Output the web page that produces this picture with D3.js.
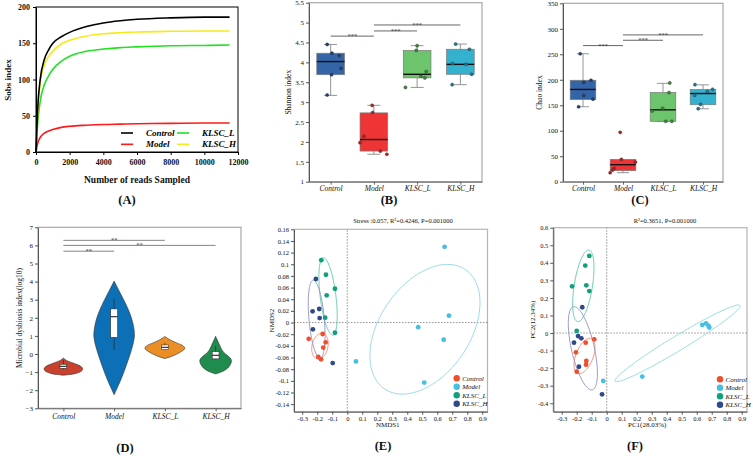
<!DOCTYPE html>
<html>
<head>
<meta charset="utf-8">
<script src="https://cdn.jsdelivr.net/npm/d3@7"></script>
<style>
body { margin: 0; background: #fff; }
svg, svg text { font-family: "Liberation Serif", "Times New Roman", "DejaVu Serif", serif !important; }
</style>
</head>
<body>
<script>
var groups = ["Control", "Model", "KLSC_L", "KLSC_H"];

// (A) rarefaction curves
var readsSampled = [0, 100, 250, 500, 750, 1000, 1500, 2000, 3000, 4000, 5000, 6000, 8000, 10000, 11500];
var sobsControl = [0, 60, 100, 128, 141, 150, 159, 165, 173, 178, 181, 183, 185, 186, 186];
var sobsModel = [0, 12, 20, 26, 29, 31, 34, 35.5, 37, 38, 38.5, 39, 39.5, 40, 40];
var sobsKlscL = [0, 40, 70, 93, 105, 114, 125, 132, 139, 142, 144, 145, 146.5, 147, 147.5];
var sobsKlscH = [0, 55, 95, 120, 132, 139, 149, 154, 160, 163, 164.5, 165.5, 166.5, 167, 167];
var readsTicks = [0, 2000, 4000, 6000, 8000, 10000, 12000];
var sobsTicks = [0, 50, 100, 150, 200];

// (B) Shannon: [min, q1, median, q3, max]
var shannonBox = [[3.17, 3.69, 4.02, 4.23, 4.45], [1.69, 1.77, 2.06, 2.73, 2.92], [3.37, 3.61, 3.70, 4.30, 4.42], [3.44, 3.70, 3.95, 4.33, 4.46]];
var shannonPoints = [[4.45, 4.23, 4.17, 3.85, 3.69, 3.18], [2.92, 2.74, 2.14, 1.98, 1.77, 1.69], [4.42, 4.30, 3.77, 3.65, 3.61, 3.37], [4.46, 4.33, 3.97, 3.95, 3.70, 3.44]];
var shannonJitter = [[-0.08, 0.03, 0.2, 0.24, 0.02, -0.08], [-0.04, -0.03, -0.23, -0.32, 0.15, 0.3], [0, -0.02, 0.21, 0.09, 0.18, -0.27], [-0.11, 0.21, -0.18, 0.13, 0.26, -0.19]];
var shannonSig = [[0, 1, 4.66, "***"], [1, 2, 4.79, "***"], [1, 3, 4.94, "***"]];
var shannonTicks = [1, 1.5, 2, 2.5, 3, 3.5, 4, 4.5, 5, 5.5];

// (C) Chao
var chaoBox = [[147, 161, 181, 199, 251], [17.7, 21.6, 33.4, 43.8, 43.8], [118, 118.5, 141, 175, 193], [143, 151, 173, 181, 190]];
var chaoPoints = [[251, 195, 199, 169, 162, 147], [96.9, 43.8, 38.6, 26.2, 22.9, 17.7], [193.7, 174.8, 144, 138.7, 118.5, 118.5], [190.4, 181.3, 176.7, 169.5, 151.8, 143.3]];
var chaoJitter = [[-0.07, 0.02, 0.2, 0.02, 0.25, -0.11], [-0.07, -0.04, 0.31, -0.22, -0.26, -0.32], [0.17, 0.15, -0.01, -0.27, 0.07, 0.22], [-0.2, 0.24, 0.11, -0.21, -0.06, -0.12]];
var chaoSig = [[0, 1, 267, "***"], [1, 2, 277.5, "***"], [1, 3, 288, "***"]];
var chaoTicks = [0, 50, 100, 150, 200, 250, 300, 350];

// (D) microbial dysbiosis index, violin profiles
var mdiLevels = [
  [-1.17, -1.1, -1.0, -0.9, -0.8, -0.7, -0.6, -0.5, -0.4, -0.3, -0.22],
  [-2.25, -1.5, -1, -0.5, 0, 0.5, 1, 1.5, 2, 2.5, 3, 3.5, 4.03],
  [-0.25, -0.15, 0, 0.15, 0.3, 0.45, 0.6, 0.75, 0.88, 0.97],
  [-1.1, -1.0, -0.85, -0.7, -0.5, -0.35, -0.2, -0.05, 0.1, 0.25, 0.4, 0.55, 0.7, 0.85, 0.98]
];
var mdiDensity = [
  [0, 0.52, 0.81, 0.93, 0.95, 0.88, 0.71, 0.48, 0.24, 0.08, 0],
  [0, 0.3, 0.48, 0.64, 0.79, 0.92, 1.0, 0.96, 0.85, 0.68, 0.47, 0.24, 0],
  [0, 0.29, 0.59, 0.83, 0.98, 0.9, 0.61, 0.31, 0.12, 0],
  [0, 0.27, 0.51, 0.66, 0.76, 0.78, 0.7, 0.55, 0.39, 0.3, 0.23, 0.17, 0.11, 0.05, 0]
];
var mdiBox = [[-0.85, -0.79, -0.68, -0.57, -0.33], [0.22, 0.92, 2.06, 2.49, 3.04], [0.2, 0.24, 0.37, 0.5, 0.62], [-0.3, -0.27, -0.07, 0.13, 0.44]];
var mdiSig = [[0, 1, 5.68, "**"], [0, 3, 6.0, "**"], [0, 2, 6.28, "**"]];
var mdiTicks = [-3, -2, -1, 0, 1, 2, 3, 4, 5, 6, 7];

// (E) NMDS
var nmds1 = [
  [-0.257, -0.164, -0.144, -0.160, -0.193, -0.175],
  [0.649, 0.678, 0.473, 0.643, 0.513, 0.058],
  [-0.173, -0.142, -0.082, -0.137, -0.147, -0.082],
  [-0.209, -0.187, -0.231, -0.184, -0.229, -0.097]
];
var nmds2 = [
  [-0.028, -0.0197, -0.034, -0.043, -0.059, -0.063],
  [0.130, 0.0117, -0.008, -0.0295, -0.103, -0.0667],
  [0.107, 0.082, 0.058, 0.0467, 0.0083, -0.0175],
  [0.0747, 0.0232, 0.0192, 0.0077, -0.0117, -0.0696]
];
// [cx, cy, half width, half height, correlation]
var nmdsEllipses = [[-0.182, -0.0406, 0.055, 0.022, 0.2], [0.518, -0.0115, 0.367, 0.1113, 0.41], [-0.128, 0.0448, 0.061, 0.0663, -0.5], [-0.204, 0.0058, 0.056, 0.067, -0.4]];
var nmdsXTicks = [-0.3, -0.2, -0.1, 0, 0.1, 0.2, 0.3, 0.4, 0.5, 0.6, 0.7, 0.8, 0.9];
var nmdsYTicks = [-0.14, -0.12, -0.1, -0.08, -0.06, -0.04, -0.02, 0, 0.02, 0.04, 0.06, 0.08, 0.1, 0.12, 0.14, 0.16];

// (F) PCoA
var pc1 = [
  [-0.083, -0.14, -0.205, -0.136, -0.138, -0.2],
  [0.637, 0.662, 0.678, 0.684, 0.237, -0.023],
  [-0.116, -0.143, -0.231, -0.136, -0.116, -0.2],
  [-0.163, -0.191, -0.169, -0.218, -0.185, -0.031]
];
var pc2 = [
  [-0.036, -0.055, -0.11, -0.159, -0.18, -0.22],
  [0.046, 0.055, 0.042, 0.031, -0.248, -0.273],
  [0.439, 0.384, 0.266, 0.272, 0.239, 0.012],
  [0.147, -0.017, -0.03, -0.055, -0.192, -0.349]
];
var pcoaEllipses = [[-0.148, -0.131, 0.07, 0.101, 0.5], [0.472, -0.0585, 0.417, 0.2185, 0.975], [-0.156, 0.269, 0.071, 0.204, 0.5], [-0.159, -0.087, 0.097, 0.237, -0.6]];
var pcoaXTicks = [-0.3, -0.2, -0.1, 0, 0.1, 0.2, 0.3, 0.4, 0.5, 0.6, 0.7, 0.8, 0.9];
var pcoaYTicks = [-0.4, -0.3, -0.2, -0.1, 0, 0.1, 0.2, 0.3, 0.4, 0.5, 0.6];

var serif = "Liberation Serif, Times New Roman, DejaVu Serif, serif";
var fmt = function(d) { return String(+d.toFixed(2)); };

var svg = d3.select("body").append("svg")
  .attr("width", 753).attr("height", 456);
svg.append("rect").attr("width", 753).attr("height", 456).attr("fill", "#fff");

function styleAxis(g, size, weight, color, style) {
  g.attr("font-family", serif).attr("font-size", size);
  g.select(".domain").attr("stroke", color);
  g.selectAll(".tick line").attr("stroke", color);
  g.selectAll(".tick text").attr("fill", "#111")
    .attr("font-weight", weight || null)
    .attr("font-style", style || null);
}

function label(txt, x, y, size, opts) {
  opts = opts || {};
  var t = svg.append("text").text(txt)
    .attr("x", x).attr("y", y)
    .attr("font-size", size)
    .attr("text-anchor", opts.anchor || "middle")
    .attr("fill", "#111");
  if (opts.bold) t.attr("font-weight", "bold");
  if (opts.italic) t.attr("font-style", "italic");
  if (opts.rotate) t.attr("transform", "rotate(-90," + x + "," + y + ")");
  return t;
}

/* ---------- (A) ---------- */
(function() {
  var x = d3.scaleLinear().domain([0, 12000]).range([36, 238]);
  var y = d3.scaleLinear().domain([0, 200]).range([152, 7]);
  var g = svg.append("g");

  var series = [
    { name: "Control", values: sobsControl, color: "#000" },
    { name: "Model", values: sobsModel, color: "#ff1a1a" },
    { name: "KLSC_L", values: sobsKlscL, color: "#22e022" },
    { name: "KLSC_H", values: sobsKlscH, color: "#f7ea1c" }
  ];
  var line = d3.line()
    .x(function(d, i) { return x(readsSampled[i]); })
    .y(function(d) { return y(d); })
    .curve(d3.curveMonotoneX);

  [series[2], series[3], series[1], series[0]].forEach(function(s) {
    g.append("path").attr("d", line(s.values))
      .attr("fill", "none").attr("stroke", s.color).attr("stroke-width", 1.6);
  });

  g.append("rect").attr("x", x(0)).attr("y", y(200))
    .attr("width", x(12000) - x(0)).attr("height", y(0) - y(200))
    .attr("fill", "none").attr("stroke", "#000").attr("stroke-width", 1);

  g.append("g").attr("transform", "translate(0," + y(0) + ")")
    .call(d3.axisBottom(x).tickValues(readsTicks).tickFormat(d3.format("d")).tickSize(3).tickPadding(4).tickSizeOuter(0))
    .call(styleAxis, 8, "bold", "#000");
  g.append("g").attr("transform", "translate(" + x(0) + ",0)")
    .call(d3.axisLeft(y).tickValues(sobsTicks).tickSize(3).tickPadding(3).tickSizeOuter(0))
    .call(styleAxis, 8, "bold", "#000");

  // legend
  var leg = [[0, 121, 133], [1, 121, 144.3], [2, 177, 133], [3, 177, 144.3]];
  leg.forEach(function(l) {
    var s = series[l[0]];
    g.append("line").attr("x1", l[1]).attr("x2", l[1] + 12).attr("y1", l[2]).attr("y2", l[2])
      .attr("stroke", s.color).attr("stroke-width", 1.6);
    g.append("text").text(s.name).attr("x", l[1] + 25).attr("y", l[2] + 3)
      .attr("font-size", 9).attr("font-weight", "bold").attr("font-style", "italic");
  });

  label("Sobs index", 11, 80, 9, { bold: true, rotate: true });
  label("Number of reads Sampled", 137, 183, 9.5, { bold: true });
  label("(A)", 127, 204, 12.5, { bold: true });
})();

/* ---------- (B), (C) box plots ---------- */
var boxFill = ["#3465a8", "#ee3434", "#6cc56c", "#33b1cf"];
var pointFill = ["#1f3e76", "#b51f1f", "#3a8c3a", "#197a94"];

function boxPanel(cfg) {
  var x = d3.scalePoint().domain(groups).range(cfg.xr).padding(0.5);
  var y = d3.scaleLinear().domain(cfg.yd).range(cfg.yr);
  var step = x.step();
  var bw = step * 0.64, cw = step * 0.3;
  var g = svg.append("g");

  g.append("rect").attr("x", cfg.xr[0]).attr("y", cfg.yr[1])
    .attr("width", cfg.xr[1] - cfg.xr[0]).attr("height", cfg.yr[0] - cfg.yr[1])
    .attr("fill", "none").attr("stroke", "#a8a8a8").attr("stroke-width", 1.2);

  groups.forEach(function(grp, i) {
    var b = cfg.box[i], cx = x(grp);
    var wg = g.append("g").attr("stroke", "#8a8a8a").attr("stroke-width", 0.9);
    wg.append("line").attr("x1", cx).attr("x2", cx).attr("y1", y(b[0])).attr("y2", y(b[1]));
    wg.append("line").attr("x1", cx).attr("x2", cx).attr("y1", y(b[3])).attr("y2", y(b[4]));
    wg.append("line").attr("x1", cx - cw / 2).attr("x2", cx + cw / 2).attr("y1", y(b[0])).attr("y2", y(b[0]));
    if (b[4] > b[3]) wg.append("line").attr("x1", cx - cw / 2).attr("x2", cx + cw / 2).attr("y1", y(b[4])).attr("y2", y(b[4]));
    g.append("rect").attr("x", cx - bw / 2).attr("y", y(b[3]))
      .attr("width", bw).attr("height", y(b[1]) - y(b[3]))
      .attr("fill", boxFill[i]).attr("stroke", "#7a7a7a").attr("stroke-width", 0.7);
    g.append("line").attr("x1", cx - bw / 2).attr("x2", cx + bw / 2)
      .attr("y1", y(b[2])).attr("y2", y(b[2]))
      .attr("stroke", "#111").attr("stroke-width", 1.4);
    g.selectAll(null).data(cfg.points[i]).enter().append("circle")
      .attr("cx", function(d, j) { return cx + cfg.jitter[i][j] * step; })
      .attr("cy", function(d) { return y(d); })
      .attr("r", 1.6)
      .attr("fill", pointFill[i]).attr("stroke", "#333").attr("stroke-width", 0.4);
  });

  cfg.sig.forEach(function(s) {
    var x1 = x(groups[s[0]]), x2 = x(groups[s[1]]), yy = y(s[2]);
    g.append("line").attr("x1", x1).attr("x2", x2).attr("y1", yy).attr("y2", yy)
      .attr("stroke", "#666").attr("stroke-width", 1);
    g.append("text").text(s[3]).attr("x", (x1 + x2) / 2).attr("y", yy + 2)
      .attr("text-anchor", "middle").attr("font-size", 6.5).attr("fill", "#333");
  });

  g.append("g").attr("transform", "translate(0," + cfg.yr[0] + ")")
    .call(d3.axisBottom(x).tickSize(3).tickPadding(1).tickSizeOuter(0))
    .call(styleAxis, 7.5, null, "#666", "italic");
  g.append("g").attr("transform", "translate(" + cfg.xr[0] + ",0)")
    .call(d3.axisLeft(y).tickValues(cfg.ticks).tickSize(3).tickPadding(2).tickSizeOuter(0).tickFormat(fmt))
    .call(styleAxis, 7, null, "#555");

  label(cfg.ylab, cfg.ylabX, (cfg.yr[0] + cfg.yr[1]) / 2, 7.5, { rotate: true });
  label(cfg.tag, cfg.tagX, 204, 12.5, { bold: true });
}

boxPanel({ xr: [309, 482], yd: [1, 5.5], yr: [181.7, 2.7], box: shannonBox, points: shannonPoints,
  jitter: shannonJitter, sig: shannonSig, ticks: shannonTicks, ylab: "Shannon index", ylabX: 291, tag: "(B)", tagX: 389 });
boxPanel({ xr: [563, 723], yd: [0, 350], yr: [181.7, 3.3], box: chaoBox, points: chaoPoints,
  jitter: chaoJitter, sig: chaoSig, ticks: chaoTicks, ylab: "Chao index", ylabX: 542, tag: "(C)", tagX: 640 });

/* ---------- (D) violins ---------- */
(function() {
  var violinFill = ["#c9402c", "#0d6fb5", "#ea8e25", "#1f8b4c"];
  var x = d3.scalePoint().domain(groups).range([38, 241]).padding(0.5);
  var y = d3.scaleLinear().domain([-3, 7]).range([408.3, 227.3]);
  var w = d3.scaleLinear().domain([0, 1]).range([0, 20.3]);
  var g = svg.append("g");

  g.append("rect").attr("x", 38).attr("y", 227.3).attr("width", 203).attr("height", 181)
    .attr("fill", "none").attr("stroke", "#a8a8a8").attr("stroke-width", 1.2);

  groups.forEach(function(grp, i) {
    var cx = x(grp);
    var area = d3.area()
      .y(function(d, j) { return y(mdiLevels[i][j]); })
      .x0(function(d) { return cx - w(d); })
      .x1(function(d) { return cx + w(d); })
      .curve(d3.curveCatmullRom);
    g.append("path").attr("d", area(mdiDensity[i]))
      .attr("fill", violinFill[i]).attr("stroke", "#333").attr("stroke-width", 0.6);

    var b = mdiBox[i], hw = 3.4;
    g.append("line").attr("x1", cx).attr("x2", cx).attr("y1", y(b[0])).attr("y2", y(b[4]))
      .attr("stroke", "#222").attr("stroke-width", 0.6);
    g.append("rect").attr("x", cx - hw).attr("y", y(b[3])).attr("width", hw * 2).attr("height", y(b[1]) - y(b[3]))
      .attr("fill", "#fff").attr("stroke", "#222").attr("stroke-width", 0.5);
    g.append("line").attr("x1", cx - hw).attr("x2", cx + hw).attr("y1", y(b[2])).attr("y2", y(b[2]))
      .attr("stroke", "#111").attr("stroke-width", 1);
  });

  mdiSig.forEach(function(s) {
    var x1 = x(groups[s[0]]), x2 = x(groups[s[1]]), yy = y(s[2]);
    g.append("line").attr("x1", x1).attr("x2", x2).attr("y1", yy).attr("y2", yy)
      .attr("stroke", "#777").attr("stroke-width", 0.9);
    g.append("text").text(s[3]).attr("x", (x1 + x2) / 2).attr("y", yy + 2)
      .attr("text-anchor", "middle").attr("font-size", 6.5).attr("fill", "#333");
  });

  g.append("g").attr("transform", "translate(0,408.3)")
    .call(d3.axisBottom(x).tickSize(3).tickPadding(2).tickSizeOuter(0))
    .call(styleAxis, 7.5, null, "#666", "italic");
  g.append("g").attr("transform", "translate(38,0)")
    .call(d3.axisLeft(y).tickValues(mdiTicks).tickSize(3).tickPadding(2).tickSizeOuter(0))
    .call(styleAxis, 7, null, "#555");

  label("Microbial dysbiosis index(log10)", 22, 318, 7.5, { rotate: true });
  label("(D)", 125, 452, 12.5, { bold: true });
})();

/* ---------- (E), (F) ordination ---------- */
var ordFill = ["#f04e2e", "#45c0e2", "#11a07b", "#2e4a8b"];
var ordLine = ["#f08572", "#8fd8e3", "#5cc6ad", "#8c90c0"];

function ellipsePath(e, x, y) {
  var s = Math.sqrt(1 - e[4] * e[4]);
  var pts = d3.range(0, 121).map(function(k) {
    var t = k / 120 * 2 * Math.PI;
    return [x(e[0] + e[2] * Math.cos(t)), y(e[1] + e[3] * (e[4] * Math.cos(t) + s * Math.sin(t)))];
  });
  return d3.line()(pts) + "Z";
}

function ordPanel(cfg) {
  var x = d3.scaleLinear().domain(cfg.xd).range(cfg.xr);
  var y = d3.scaleLinear().domain(cfg.yd).range(cfg.yr);
  var g = svg.append("g");

  g.append("rect").attr("x", cfg.xr[0]).attr("y", cfg.yr[1])
    .attr("width", cfg.xr[1] - cfg.xr[0]).attr("height", cfg.yr[0] - cfg.yr[1])
    .attr("fill", "none").attr("stroke", "#b5b5b5").attr("stroke-width", 1.2);

  g.append("line").attr("x1", x(0)).attr("x2", x(0)).attr("y1", cfg.yr[0]).attr("y2", cfg.yr[1])
    .attr("stroke", "#666").attr("stroke-width", 0.7).attr("stroke-dasharray", "1.5,1.5");
  g.append("line").attr("x1", cfg.xr[0]).attr("x2", cfg.xr[1]).attr("y1", y(0)).attr("y2", y(0))
    .attr("stroke", "#666").attr("stroke-width", 0.7).attr("stroke-dasharray", "1.5,1.5");

  cfg.ellipses.forEach(function(e, i) {
    g.append("path").attr("d", ellipsePath(e, x, y))
      .attr("fill", "none").attr("stroke", ordLine[i]).attr("stroke-width", 0.9);
  });

  groups.forEach(function(grp, i) {
    g.selectAll(null).data(cfg.xs[i]).enter().append("circle")
      .attr("cx", function(d) { return x(d); })
      .attr("cy", function(d, j) { return y(cfg.ys[i][j]); })
      .attr("r", 2.4).attr("fill", ordFill[i]);
  });

  g.append("g").attr("transform", "translate(0," + cfg.yr[0] + ")")
    .call(d3.axisBottom(x).tickValues(cfg.xt).tickSize(3).tickPadding(2).tickSizeOuter(0).tickFormat(fmt))
    .call(styleAxis, 6.5, null, "#555");
  g.append("g").attr("transform", "translate(" + cfg.xr[0] + ",0)")
    .call(d3.axisLeft(y).tickValues(cfg.yt).tickSize(3).tickPadding(2).tickSizeOuter(0).tickFormat(fmt))
    .call(styleAxis, 6.5, null, "#555");

  groups.forEach(function(grp, i) {
    var ly = cfg.legY + i * 8.5;
    g.append("circle").attr("cx", cfg.legX).attr("cy", ly).attr("r", 3.2).attr("fill", ordFill[i]);
    g.append("text").text(grp).attr("x", cfg.legX + 5.5).attr("y", ly + 2.5)
      .attr("font-size", 7).attr("font-style", "italic").attr("fill", "#111");
  });

  label(cfg.title, cfg.titleX, 223, 6.5);
  label(cfg.xlab, (cfg.xr[0] + cfg.xr[1]) / 2 - 3, 427, 7);
  label(cfg.ylab, cfg.ylabX, (cfg.yr[0] + cfg.yr[1]) / 2, 7, { rotate: true });
  label(cfg.tag, cfg.tagX, 450, 12.5, { bold: true });
}

ordPanel({ xd: [-0.355, 0.935], xr: [294, 487.5], yd: [-0.153, 0.16], yr: [411.7, 229.3],
  xs: nmds1, ys: nmds2, ellipses: nmdsEllipses, xt: nmdsXTicks, yt: nmdsYTicks,
  legX: 456.7, legY: 378.3, title: "Stress :0.057, R\u00b2=0.4246, P=0.001000", titleX: 403,
  xlab: "NMDS1", ylab: "NMDS2", ylabX: 274, tag: "(E)", tagX: 383 });
ordPanel({ xd: [-0.356, 0.935], xr: [553.3, 747], yd: [-0.448, 0.6], yr: [411.7, 227.7],
  xs: pc1, ys: pc2, ellipses: pcoaEllipses, xt: pcoaXTicks, yt: pcoaYTicks,
  legX: 720, legY: 379.3, title: "R\u00b2=0.3651, P=0.001000", titleX: 665,
  xlab: "PC1(28.03%)", ylab: "PC2(12.34%)", ylabX: 535, tag: "(F)", tagX: 635 });
</script>
</body>
</html>
